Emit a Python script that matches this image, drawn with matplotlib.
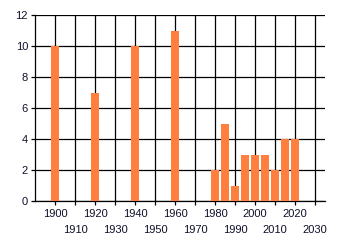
import matplotlib
matplotlib.use("Agg")
import matplotlib.pyplot as plt

# data
years = [1900, 1920, 1940, 1960, 1980, 1985, 1990, 1995, 2000, 2005, 2010, 2015, 2020]
counts = [10, 7, 10, 11, 2, 5, 1, 3, 3, 3, 2, 4, 4]
row1_ticks = [1900, 1920, 1940, 1960, 1980, 2000, 2020]
row2_ticks = [1910, 1930, 1950, 1970, 1990, 2010, 2030]
y_ticks = [0, 2, 4, 6, 8, 10, 12]

BAR = "#FF7F3F"
TXT = "#10102a"

plt.rcParams["font.family"] = ["Liberation Sans", "DejaVu Sans"]

fig = plt.figure(figsize=(3.4, 2.45), dpi=100)
ax = fig.add_axes([35 / 340, 1 - 201 / 245, 290 / 340, 186 / 245])

ax.bar(years, counts, width=4.2, color=BAR, zorder=3)

ax.set_xlim(1890, 2035)
ax.set_ylim(0, 12)
ax.set_yticks(y_ticks)
ax.set_xticks(row1_ticks)
ax.set_xticks(row2_ticks, minor=True)
ax.set_xticklabels([str(t) for t in row1_ticks])
ax.set_xticklabels([str(t) for t in row2_ticks], minor=True)

ax.grid(True, which="both", color="black", linewidth=0.9, zorder=1)
for s in ["top", "right"]:
    ax.spines[s].set_visible(False)
for s in ["left", "bottom"]:
    ax.spines[s].set_linewidth(0.9)
ax.tick_params(axis="both", which="both", length=3, width=0.9, colors="black",
               labelcolor=TXT, labelsize=8)
ax.tick_params(axis="y", pad=2)
ax.tick_params(axis="x", which="major", pad=3)
ax.tick_params(axis="x", which="minor", pad=14)

fig.savefig("out.png", dpi=100)
